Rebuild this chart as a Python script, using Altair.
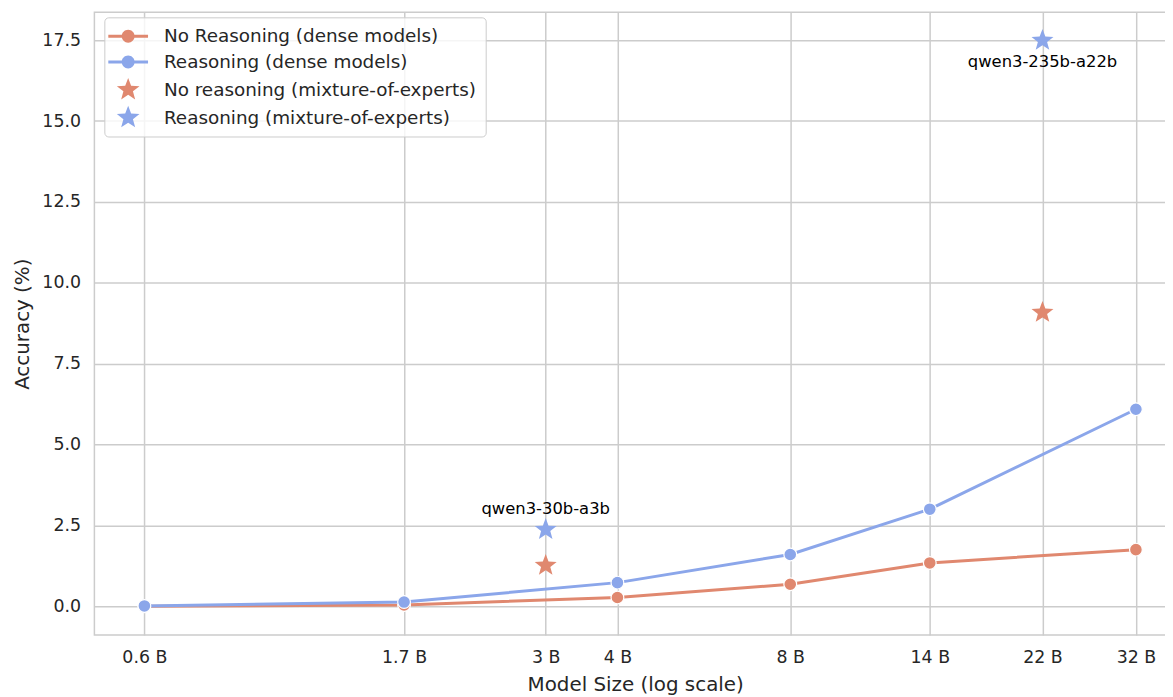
import math
import altair as alt
import pandas as pd

# ---------------- data ----------------
dense_sizes = [0.6, 1.7, 4, 8, 14, 32]
no_reason_dense = [0.0, 0.04, 0.27, 0.68, 1.34, 1.75]
reason_dense = [0.01, 0.13, 0.73, 1.60, 3.00, 6.09]

moe_sizes = [3, 22]
no_reason_moe = [1.26, 9.08]
reason_moe = [2.37, 17.49]
moe_names = ["qwen3-30b-a3b", "qwen3-235b-a22b"]

series_names = [
    "No Reasoning (dense models)",
    "Reasoning (dense models)",
    "No reasoning (mixture-of-experts)",
    "Reasoning (mixture-of-experts)",
]
x_ticks = [0.6, 1.7, 3, 4, 8, 14, 22, 32]
y_ticks = [0, 2.5, 5, 7.5, 10, 12.5, 15, 17.5]

RED = "#e0886f"
BLUE = "#8ba6ea"
series_colors = [RED, BLUE, RED, BLUE]
TEXT = "#262626"
GRID = "#cccccc"
FONT = "DejaVu Sans"

rows = []
for s, a in zip(dense_sizes, no_reason_dense):
    rows.append({"size": s, "acc": a, "series": series_names[0], "name": ""})
for s, a in zip(dense_sizes, reason_dense):
    rows.append({"size": s, "acc": a, "series": series_names[1], "name": ""})
for s, a, n in zip(moe_sizes, no_reason_moe, moe_names):
    rows.append({"size": s, "acc": a, "series": series_names[2], "name": n})
for s, a, n in zip(moe_sizes, reason_moe, moe_names):
    rows.append({"size": s, "acc": a, "series": series_names[3], "name": n})
df = pd.DataFrame(rows)


# ---------------- symbol shapes ----------------
def star_path(R, ratio, cx=0.0):
    pts = []
    for k in range(10):
        ang = math.radians(-90 + 36 * k)
        r = R if k % 2 == 0 else R * ratio
        pts.append((cx + r * math.cos(ang), r * math.sin(ang)))
    return "M " + " L ".join(f"{x:.4f},{y:.4f}" for x, y in pts) + " Z"


chart_star = star_path(1.0, 0.42)
legend_star = star_path(1.2, 0.42, cx=0.5)
cr = 0.65
legend_dense = (
    f"M {0.5 - cr},0 A {cr},{cr} 0 1,1 {0.5 + cr},0 A {cr},{cr} 0 1,1 {0.5 - cr},0 Z "
    "M -1.5,-0.15 L 2.5,-0.15 L 2.5,0.15 L -1.5,0.15 Z"
)

# ---------------- encodings ----------------
x_enc = alt.X(
    "size:Q",
    scale=alt.Scale(type="log", domain=[0.491, 37.57], nice=False),
    axis=alt.Axis(
        values=x_ticks,
        labelExpr="datum.value + ' B'",
        title="Model Size (log scale)",
        labelPadding=14,
        titlePadding=8,
    ),
)
y_enc = alt.Y(
    "acc:Q",
    scale=alt.Scale(domain=[-0.89, 18.36], nice=False, zero=False),
    axis=alt.Axis(
        values=y_ticks,
        format=".1f",
        title="Accuracy (%)",
        labelPadding=14,
        titlePadding=9,
    ),
)

base = alt.Chart(df).encode(x=x_enc, y=y_enc)


def only(i):
    return alt.datum.series == series_names[i]


layers = []
for i in (0, 1):
    layers.append(
        base.transform_filter(only(i)).mark_line(strokeWidth=3, opacity=1, color=series_colors[i])
    )
    layers.append(
        base.transform_filter(only(i)).mark_point(
            filled=True, size=165, opacity=1, color=series_colors[i],
            stroke="white", strokeWidth=1.2, shape="circle",
        )
    )
for i in (2, 3):
    layers.append(
        base.transform_filter(only(i)).mark_point(
            filled=True, size=540, opacity=1, color=series_colors[i], strokeWidth=0, shape=chart_star
        )
    )

layers.append(
    base.transform_filter((alt.datum.series == series_names[3]) & (alt.datum.name == moe_names[0]))
    .mark_text(fontSize=16.5, font=FONT, color="black", dy=-21, baseline="middle")
    .encode(text="name:N")
)
layers.append(
    base.transform_filter((alt.datum.series == series_names[3]) & (alt.datum.name == moe_names[1]))
    .mark_text(fontSize=16.5, font=FONT, color="black", dy=22, baseline="middle")
    .encode(text="name:N")
)

# invisible layer that only produces the combined legend
legend_def = alt.Legend(title=None, orient="none", legendX=10, legendY=5)
layers.append(
    base.mark_point(filled=True).encode(
        color=alt.Color(
            "series:N",
            scale=alt.Scale(domain=series_names, range=series_colors),
            legend=legend_def,
        ),
        shape=alt.Shape(
            "series:N",
            scale=alt.Scale(
                domain=series_names,
                range=[legend_dense, legend_dense, legend_star, legend_star],
            ),
            legend=legend_def,
        ),
        opacity=alt.value(0),
    )
)

chart = (
    alt.layer(*layers)
    .properties(
        width=1165,
        height=689,
        autosize=alt.AutoSizeParams(type="fit", contains="padding"),
        padding={"left": 5, "top": 2, "right": -11, "bottom": 0},
        background="white",
    )
    .configure_view(stroke=GRID, strokeWidth=1.5)
    .configure_axis(
        grid=True,
        gridColor=GRID,
        gridWidth=1.5,
        domain=False,
        ticks=False,
        labelFont=FONT,
        titleFont=FONT,
        labelFontSize=17.5,
        titleFontSize=20,
        labelColor=TEXT,
        titleColor=TEXT,
        titleFontWeight="normal",
    )
    .configure_legend(
        labelFont=FONT,
        labelFontSize=18.5,
        labelColor=TEXT,
        labelLimit=0,
        symbolSize=400,
        symbolStrokeWidth=0,
        symbolOpacity=1,
        padding=9,
        rowPadding=6,
        labelOffset=31,
        fillColor="rgba(255,255,255,0.8)",
        strokeColor=GRID,
        cornerRadius=4,
    )
)

chart.save("out.html", embed_options={"renderer": "svg", "actions": False})
